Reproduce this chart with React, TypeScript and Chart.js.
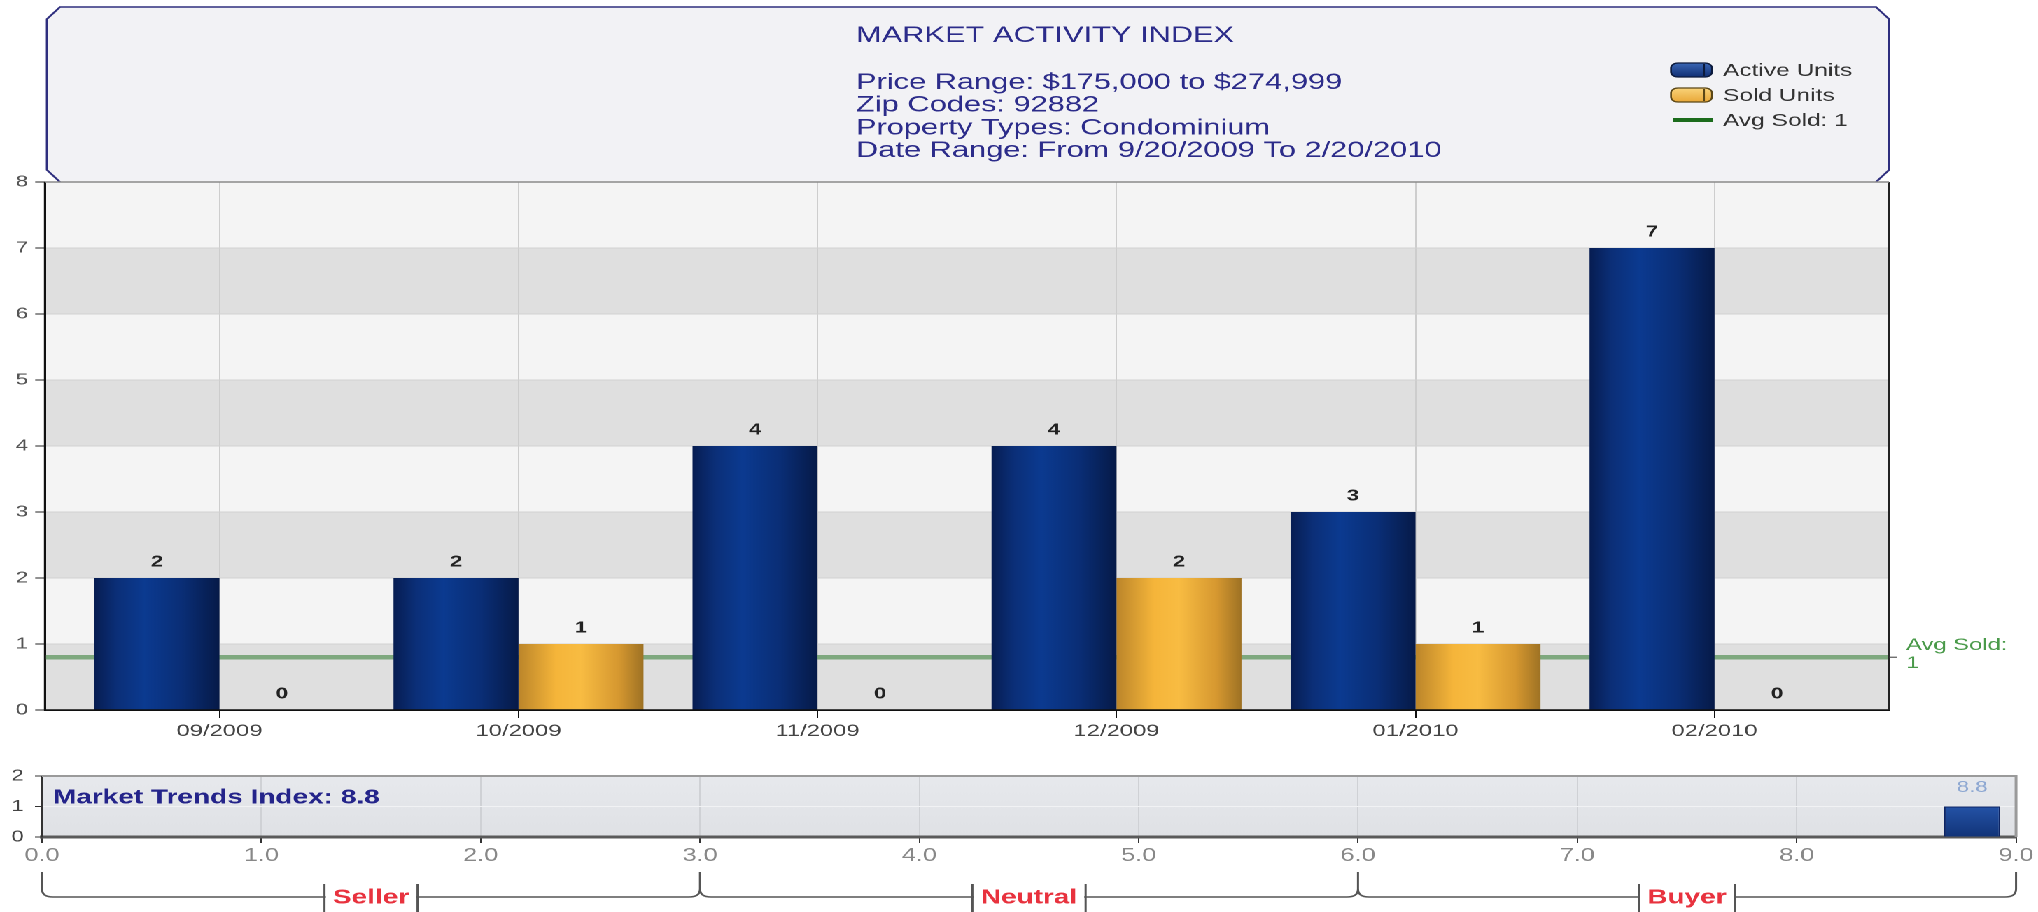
import React, { useEffect, useRef } from 'react';
import { Chart, registerables } from 'chart.js';

Chart.register(...registerables);

// ---------------- data ----------------
const categories = ['09/2009', '10/2009', '11/2009', '12/2009', '01/2010', '02/2010'];
const activeUnits = [2, 2, 4, 4, 3, 7];
const soldUnits = [0, 1, 0, 2, 1, 0];
const avgSoldValue = 0.8;
const avgSoldText = ['Avg Sold:', '1'];
const legendLabels = ['Active Units', 'Sold Units', 'Avg Sold: 1'];
const headerTitle = 'MARKET ACTIVITY INDEX';
const headerLines = [
  'Price Range: $175,000 to $274,999',
  'Zip Codes: 92882',
  'Property Types: Condominium',
  'Date Range: From 9/20/2009 To 2/20/2010',
];
const mainYMax = 8;

const trendIndexValue = 8.8;
const trendBarHeight = 1;
const trendTitle = 'Market Trends Index: 8.8';
const trendXMax = 9;
const trendYMax = 2;
const zoneLabels = ['Seller', 'Neutral', 'Buyer'];
const zoneEdges = [0, 3, 6, 9];

// ---------------- layout helpers ----------------
const PAGE_W = 2038;
const LW = 1456;
const S = PAGE_W / LW; // horizontal stretch of the whole drawing
const px = (p: number) => p / S;
const FONT = '"Liberation Sans", Arial, Helvetica, sans-serif';
Chart.defaults.font.family = FONT;

function MainChart() {
  const ref = useRef<HTMLCanvasElement>(null);
  useEffect(() => {
    const canvas = ref.current!;
    const xPad = 0.0835;
    const xMin = -0.5 - xPad;
    const xMax = categories.length - 0.5 + xPad;
    const H = 752;
    const plotL = px(45);
    const plotR = px(1889);
    const plotT = 182;
    const plotB = 710;

    const decor: any = {
      id: 'mainDecor',
      beforeDraw(chart: any) {
        const { ctx, chartArea: a, scales } = chart;
        const y = scales.y;
        ctx.save();
        // header panel
        const L = px(47), R = px(1889), T = 7, B = a.top, cx = px(13), cy = 12;
        const path = () => {
          ctx.beginPath();
          ctx.moveTo(L + cx, B);
          ctx.lineTo(L, B - cy);
          ctx.lineTo(L, T + cy);
          ctx.lineTo(L + cx, T);
          ctx.lineTo(R - cx, T);
          ctx.lineTo(R, T + cy);
          ctx.lineTo(R, B - cy);
          ctx.lineTo(R - cx, B);
        };
        path();
        ctx.closePath();
        ctx.fillStyle = '#f2f2f5';
        ctx.fill();
        path();
        ctx.strokeStyle = '#2e2e7e';
        ctx.lineWidth = 1.6;
        ctx.stroke();

        ctx.fillStyle = '#2c2c8a';
        ctx.textAlign = 'left';
        ctx.textBaseline = 'alphabetic';
        ctx.font = `22px ${FONT}`;
        ctx.fillText(headerTitle, px(856), 42);
        ctx.font = `22px ${FONT}`;
        headerLines.forEach((t, i) => ctx.fillText(t, px(856), 89 + i * 22.7));

        // legend
        const sx0 = px(1671), sx1 = px(1712);
        const rows = [70, 95, 120];
        const sw = [
          ['#3a66b4', '#102e74', '#0c1a3c'],
          ['#f9d37a', '#e9a838', '#5a4616'],
        ];
        for (let k = 0; k < 2; k++) {
          const yc = rows[k];
          const g = ctx.createLinearGradient(0, yc - 7, 0, yc + 7);
          g.addColorStop(0, sw[k][0]);
          g.addColorStop(1, sw[k][1]);
          ctx.beginPath();
          ctx.roundRect(sx0, yc - 7, sx1 - sx0, 14, 5);
          ctx.fillStyle = g;
          ctx.fill();
          ctx.strokeStyle = sw[k][2];
          ctx.lineWidth = 1.3;
          ctx.stroke();
          ctx.beginPath();
          ctx.moveTo(sx1 - px(8), yc - 6);
          ctx.lineTo(sx1 - px(8), yc + 6);
          ctx.stroke();
        }
        ctx.beginPath();
        ctx.moveTo(px(1673), rows[2]);
        ctx.lineTo(px(1713), rows[2]);
        ctx.strokeStyle = '#1c6c1c';
        ctx.lineWidth = 4;
        ctx.stroke();
        ctx.fillStyle = '#333';
        ctx.font = `17.5px ${FONT}`;
        ctx.textBaseline = 'middle';
        legendLabels.forEach((t, i) => ctx.fillText(t, px(1723), rows[i] + 1));

        // plot background bands
        for (let i = 0; i < mainYMax; i++) {
          const top = y.getPixelForValue(i + 1);
          const bot = y.getPixelForValue(i);
          ctx.fillStyle = i % 2 === 0 ? '#dfdfdf' : '#f4f4f4';
          ctx.fillRect(a.left, top, a.right - a.left, bot - top);
        }
        ctx.restore();
      },
      beforeDatasetsDraw(chart: any) {
        const { ctx } = chart;
        const stops = [
          [[0, '#071d52'], [0.18, '#0b2f78'], [0.4, '#0b3a90'], [0.7, '#0a2e76'], [1, '#061a48']],
          [[0, '#bb852a'], [0.3, '#f5b53a'], [0.5, '#f8bc42'], [0.8, '#d69830'], [1, '#9e7224']],
        ];
        [0, 1].forEach((di) => {
          const meta = chart.getDatasetMeta(di);
          meta.data.forEach((el: any) => {
            const { x, width } = el.getProps(['x', 'width'], true);
            const g = ctx.createLinearGradient(x - width / 2, 0, x + width / 2, 0);
            stops[di].forEach((s: any) => g.addColorStop(s[0], s[1]));
            el.options = { ...el.options, backgroundColor: g };
          });
        });
      },
      afterDatasetsDraw(chart: any) {
        const { ctx, chartArea: a, scales } = chart;
        const y = scales.y;
        ctx.save();
        // axis lines on top
        ctx.strokeStyle = '#111';
        ctx.lineWidth = 1.5;
        ctx.beginPath();
        ctx.moveTo(a.left, a.top);
        ctx.lineTo(a.left, a.bottom);
        ctx.lineTo(a.right, a.bottom);
        ctx.stroke();
        ctx.strokeStyle = '#222';
        ctx.beginPath();
        ctx.moveTo(a.right, a.top);
        ctx.lineTo(a.right, a.bottom);
        ctx.stroke();
        ctx.strokeStyle = '#8a8a8a';
        ctx.beginPath();
        ctx.moveTo(a.left, a.top);
        ctx.lineTo(a.right, a.top);
        ctx.stroke();

        // value labels
        ctx.fillStyle = '#222';
        ctx.font = `bold 16px ${FONT}`;
        ctx.textAlign = 'center';
        ctx.textBaseline = 'middle';
        [0, 1].forEach((di) => {
          const meta = chart.getDatasetMeta(di);
          const vals = di === 0 ? activeUnits : soldUnits;
          meta.data.forEach((el: any, i: number) => {
            ctx.fillText(String(vals[i]), el.x, el.y - 16);
          });
        });

        // avg sold label
        const ya = y.getPixelForValue(avgSoldValue);
        ctx.strokeStyle = '#333';
        ctx.lineWidth = 1;
        ctx.beginPath();
        ctx.moveTo(a.right, ya);
        ctx.lineTo(a.right + px(8), ya);
        ctx.stroke();
        ctx.fillStyle = '#4a9a4a';
        ctx.font = `17px ${FONT}`;
        ctx.textAlign = 'left';
        ctx.fillText(avgSoldText[0], px(1906), ya - 12);
        ctx.fillText(avgSoldText[1], px(1906), ya + 6);
        ctx.restore();
      },
    };

    const chart = new Chart(canvas, {
      type: 'bar',
      data: {
        datasets: [
          {
            type: 'bar',
            label: 'Active Units',
            data: activeUnits.map((v, i) => ({ x: i, y: v })),
            backgroundColor: () => '#0a2f7a',
            borderWidth: 0,
            categoryPercentage: 0.836,
            barPercentage: 1,
            order: 1,
          },
          {
            type: 'bar',
            label: 'Sold Units',
            data: soldUnits.map((v, i) => ({ x: i, y: v })),
            backgroundColor: () => '#f0b030',
            borderWidth: 0,
            categoryPercentage: 0.836,
            barPercentage: 1,
            order: 1,
          },
          {
            type: 'line',
            label: 'Avg Sold',
            data: [
              { x: xMin, y: avgSoldValue },
              { x: xMax, y: avgSoldValue },
            ],
            borderColor: '#7ea87e',
            borderWidth: 4.5,
            pointRadius: 0,
            order: 3,
          },
        ] as any,
      },
      options: {
        animation: false,
        responsive: true,
        maintainAspectRatio: false,
        devicePixelRatio: 2,
        layout: { padding: { top: plotT, left: 0, right: LW - plotR, bottom: 0 } },
        plugins: { legend: { display: false }, tooltip: { enabled: false } },
        scales: {
          x: {
            type: 'linear',
            min: xMin,
            max: xMax,
            offset: false,
            afterBuildTicks: (s: any) => {
              s.ticks = categories.map((_, i) => ({ value: i }));
            },
            afterFit: (s: any) => {
              s.height = H - plotB;
            },
            ticks: {
              callback: (v: any) => categories[Math.round(Number(v))] ?? '',
              color: '#444',
              font: { size: 17 },
              padding: 3,
              maxRotation: 0,
            },
            grid: { offset: false, color: '#cdcdcd', tickColor: '#111', tickLength: 8 },
            border: { color: '#111', width: 1.5 },
          },
          y: {
            min: 0,
            max: mainYMax,
            afterFit: (s: any) => {
              s.width = plotL;
            },
            ticks: { stepSize: 1, color: '#555', font: { size: 16 }, padding: 5 },
            grid: {
              color: (c: any) => (c.tick && (c.tick.value === mainYMax || c.tick.value === 0) ? 'transparent' : '#d2d2d2'),
              tickColor: '#222',
              tickLength: 7,
            },
            border: { color: '#111', width: 1.5 },
          },
        },
      } as any,
      plugins: [decor],
    });
    return () => chart.destroy();
  }, []);
  return <canvas ref={ref} />;
}

function GaugeChart() {
  const ref = useRef<HTMLCanvasElement>(null);
  useEffect(() => {
    const canvas = ref.current!;
    const H = 160;
    const plotT = 24;
    const plotB = 85;
    const plotL = px(42);
    const plotR = px(2016);

    const decor: any = {
      id: 'gaugeDecor',
      beforeDraw(chart: any) {
        const { ctx, chartArea: a } = chart;
        ctx.save();
        const g = ctx.createLinearGradient(0, a.top, 0, a.bottom);
        g.addColorStop(0, '#e7e9ed');
        g.addColorStop(1, '#dfe1e5');
        ctx.fillStyle = g;
        ctx.fillRect(a.left, a.top, a.right - a.left, a.bottom - a.top);
        ctx.restore();
      },
      beforeDatasetsDraw(chart: any) {
        const { ctx } = chart;
        const meta = chart.getDatasetMeta(0);
        meta.data.forEach((el: any) => {
          const { y, base } = el.getProps(['y', 'base'], true);
          const g = ctx.createLinearGradient(0, y, 0, base);
          g.addColorStop(0, '#2452a6');
          g.addColorStop(1, '#123479');
          el.options = { ...el.options, backgroundColor: g };
        });
      },
      afterDatasetsDraw(chart: any) {
        const { ctx, chartArea: a } = chart;
        ctx.save();
        // borders
        ctx.strokeStyle = '#9a9a9a';
        ctx.lineWidth = 2;
        ctx.beginPath();
        ctx.moveTo(a.left, a.top);
        ctx.lineTo(a.right, a.top);
        ctx.lineTo(a.right, a.bottom);
        ctx.stroke();
        // value label
        const el: any = chart.getDatasetMeta(0).data[0];
        ctx.fillStyle = '#8ea8d2';
        ctx.font = `16px ${FONT}`;
        ctx.textAlign = 'center';
        ctx.textBaseline = 'middle';
        ctx.fillText(trendIndexValue.toFixed(1), el.x, el.y - 19);
        // title
        ctx.fillStyle = '#24248a';
        ctx.font = `bold 20px ${FONT}`;
        ctx.textAlign = 'left';
        ctx.fillText(trendTitle, px(53), 46);
        ctx.restore();
      },
      afterDraw(chart: any) {
        const { ctx, scales } = chart;
        const x = scales.x;
        const yb = 145;
        const yt = 120;
        const r = 8;
        ctx.save();
        const xs = zoneEdges.map((v) => x.getPixelForValue(v));
        ctx.strokeStyle = '#555';
        ctx.lineWidth = 1.5;
        ctx.beginPath();
        ctx.moveTo(xs[0], yt);
        ctx.lineTo(xs[0], yb - r);
        ctx.quadraticCurveTo(xs[0], yb, xs[0] + r, yb);
        for (let k = 1; k < xs.length - 1; k++) {
          ctx.lineTo(xs[k] - r, yb);
          ctx.quadraticCurveTo(xs[k], yb, xs[k], yb - r);
          ctx.lineTo(xs[k], yt);
          ctx.moveTo(xs[k], yb - r);
          ctx.quadraticCurveTo(xs[k], yb, xs[k] + r, yb);
        }
        const xe = xs[xs.length - 1];
        ctx.lineTo(xe - r, yb);
        ctx.quadraticCurveTo(xe, yb, xe, yb - r);
        ctx.lineTo(xe, yt);
        ctx.stroke();

        ctx.font = `bold 20px ${FONT}`;
        ctx.textAlign = 'center';
        ctx.textBaseline = 'middle';
        zoneLabels.forEach((t, k) => {
          const xc = x.getPixelForValue((zoneEdges[k] + zoneEdges[k + 1]) / 2);
          const half = ctx.measureText(t).width / 2 + 6;
          ctx.fillStyle = '#fff';
          ctx.fillRect(xc - half + 1, yb - 4, 2 * half - 2, 8);
          ctx.beginPath();
          ctx.moveTo(xc - half, yb - 13);
          ctx.lineTo(xc - half, H);
          ctx.moveTo(xc + half, yb - 13);
          ctx.lineTo(xc + half, H);
          ctx.stroke();
          ctx.fillStyle = '#e8323e';
          ctx.fillText(t, xc, yb + 1);
        });
        ctx.restore();
      },
    };

    const chart = new Chart(canvas, {
      type: 'bar',
      data: {
        datasets: [
          {
            label: 'Market Trends Index',
            data: [{ x: trendIndexValue, y: trendBarHeight }],
            backgroundColor: () => '#1a4090',
            borderColor: '#0c2464',
            borderWidth: 1,
            categoryPercentage: 1,
            barPercentage: 0.255,
          },
        ] as any,
      },
      options: {
        animation: false,
        responsive: true,
        maintainAspectRatio: false,
        devicePixelRatio: 2,
        layout: { padding: { top: plotT, left: 0, right: LW - plotR, bottom: 0 } },
        plugins: { legend: { display: false }, tooltip: { enabled: false } },
        scales: {
          x: {
            type: 'linear',
            min: 0,
            max: trendXMax,
            offset: false,
            afterFit: (s: any) => {
              s.height = H - plotB;
            },
            ticks: {
              stepSize: 1,
              callback: (v: any) => Number(v).toFixed(1),
              color: '#888',
              font: { size: 18 },
              padding: 2,
              maxRotation: 0,
            },
            grid: { offset: false, color: '#cfd1d5', tickColor: '#333', tickLength: 6 },
            border: { color: '#5a5a5a', width: 3 },
          },
          y: {
            min: 0,
            max: trendYMax,
            afterFit: (s: any) => {
              s.width = plotL;
            },
            ticks: { stepSize: 1, color: '#444', font: { size: 16 }, padding: 8 },
            grid: {
              color: (c: any) => (c.tick && c.tick.value === 1 ? '#f1f2f4' : 'transparent'),
              tickColor: '#333',
              tickLength: 5,
            },
            border: { color: '#333', width: 1 },
          },
        },
      } as any,
      plugins: [decor],
    });
    return () => chart.destroy();
  }, []);
  return <canvas ref={ref} />;
}

export default function App() {
  return (
    <div
      style={{
        position: 'absolute',
        left: 0,
        top: 0,
        width: LW,
        height: 912,
        transform: `scaleX(${S})`,
        transformOrigin: '0 0',
        background: '#fff',
        overflow: 'hidden',
      }}
    >
      <div style={{ position: 'relative', width: LW, height: 752 }}>
        <MainChart />
      </div>
      <div style={{ position: 'relative', width: LW, height: 160 }}>
        <GaugeChart />
      </div>
    </div>
  );
}
